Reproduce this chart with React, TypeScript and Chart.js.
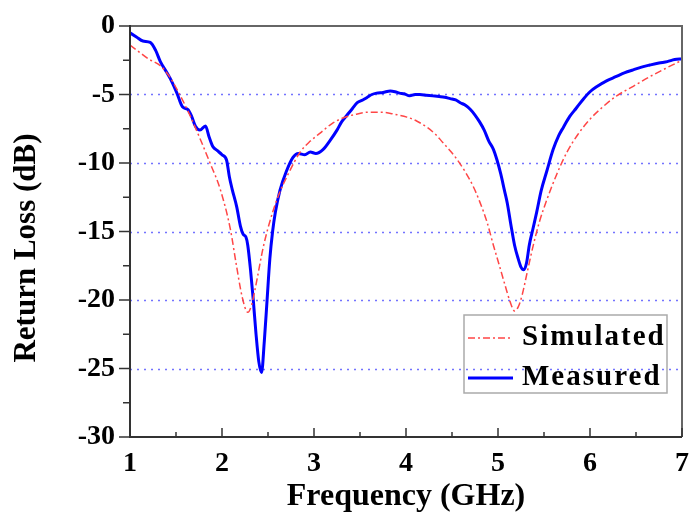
import React, { useEffect, useRef } from "react";
import { Chart, registerables } from "chart.js";

Chart.register(...registerables);

const X_TITLE = "Frequency (GHz)";
const Y_TITLE = "Return Loss (dB)";
const X_MIN = 1, X_MAX = 7, X_STEP = 1, X_MINOR = 0.5;
const Y_MIN = -30, Y_MAX = 0, Y_STEP = 5, Y_MINOR = 2.5;
const GRID_VALUES = [-5, -10, -15, -20, -25];

const SIM_LABEL = "Simulated";
const MEAS_LABEL = "Measured";

const measFreq = [
  1.00, 1.07, 1.14, 1.22, 1.28, 1.33, 1.40, 1.45, 1.51, 1.57, 1.63, 1.67, 1.71, 1.76, 1.82, 1.86, 1.90, 1.95,
  2.00, 2.05, 2.08, 2.11, 2.16, 2.20, 2.23, 2.26, 2.28, 2.31, 2.34, 2.37, 2.40, 2.43, 2.46, 2.49, 2.52, 2.55,
  2.58, 2.63, 2.70, 2.77, 2.83, 2.90, 2.96, 3.02, 3.10, 3.17, 3.25, 3.30, 3.36, 3.42, 3.47, 3.53, 3.58, 3.63,
  3.68, 3.75, 3.83, 3.88, 3.93, 3.98, 4.04, 4.10, 4.15, 4.22, 4.29, 4.36, 4.42, 4.48, 4.54, 4.59, 4.65, 4.70,
  4.75, 4.80, 4.85, 4.90, 4.95, 4.99, 5.03, 5.07, 5.10, 5.14, 5.18, 5.22, 5.25, 5.28, 5.31, 5.34, 5.38, 5.42,
  5.47, 5.53, 5.60, 5.66, 5.71, 5.78, 5.85, 5.92, 6.00, 6.08, 6.18, 6.28, 6.38, 6.47, 6.56, 6.65, 6.75, 6.84,
  6.92, 7.00,
];
const measDb = [
  -0.5, -0.8, -1.1, -1.2, -1.8, -2.6, -3.4, -4.0, -4.9, -5.9, -6.1, -6.6, -7.3, -7.6, -7.3, -8.1, -8.8, -9.1,
  -9.4, -9.8, -11.0, -11.9, -13.2, -14.6, -15.2, -15.4, -16.0, -17.8, -20.0, -22.5, -24.5, -25.3, -23.0, -20.0, -17.0, -15.0,
  -13.6, -12.0, -10.6, -9.6, -9.3, -9.4, -9.2, -9.3, -9.0, -8.4, -7.6, -7.0, -6.5, -6.0, -5.6, -5.4, -5.2, -5.0,
  -4.9, -4.85, -4.75, -4.8, -4.9, -4.95, -5.1, -5.0, -5.0, -5.05, -5.1, -5.15, -5.2, -5.3, -5.4, -5.6, -5.8, -6.1,
  -6.5, -7.0, -7.6, -8.4, -9.0, -9.8, -10.8, -12.0, -12.9, -14.5, -16.0, -17.0, -17.6, -17.8, -17.3, -16.0, -14.8, -13.6,
  -12.0, -10.6, -9.0, -8.0, -7.4, -6.6, -6.0, -5.4, -4.8, -4.4, -4.0, -3.7, -3.4, -3.2, -3.0, -2.85, -2.7, -2.6,
  -2.45, -2.4,
];

const simFreq = [
  1.00, 1.10, 1.20, 1.33, 1.43, 1.54, 1.65, 1.76, 1.87, 1.98, 2.09, 2.16, 2.22, 2.28, 2.32, 2.36, 2.45, 2.55,
  2.63, 2.72, 2.85, 2.96, 3.07, 3.20, 3.32, 3.45, 3.58, 3.75, 3.88, 4.01, 4.12, 4.23, 4.32, 4.40, 4.48, 4.55,
  4.64, 4.73, 4.80, 4.88, 4.95, 5.02, 5.08, 5.13, 5.18, 5.22, 5.26, 5.32, 5.38, 5.45, 5.53, 5.64, 5.75, 5.87,
  6.00, 6.14, 6.29, 6.47, 6.65, 6.82, 7.00,
];
const simDb = [
  -1.4, -1.9, -2.4, -2.9, -3.7, -5.0, -6.5, -8.2, -10.0, -11.9, -14.8, -17.6, -19.8, -20.9, -20.4, -19.2, -16.1, -13.6,
  -12.1, -10.8, -9.2, -8.4, -7.8, -7.1, -6.7, -6.45, -6.3, -6.3, -6.45, -6.65, -6.95, -7.4, -7.9, -8.5, -9.1, -9.7,
  -10.6, -11.7, -12.8, -14.3, -16.0, -17.6, -19.0, -20.1, -20.8, -20.5, -19.7, -17.9, -16.1, -14.3, -12.7, -10.8, -9.2, -7.9,
  -6.8, -5.9, -5.1, -4.4, -3.7, -3.1, -2.5,
];

const FONT = '"Liberation Serif", "Times New Roman", serif';
const SIM_COLOR = "rgb(255,70,70)";
const MEAS_COLOR = "#0000ff";
const SIM_DASH = [7, 3, 2, 3];

const zeroPad = (s: any) => {
  s.paddingTop = 0;
  s.paddingBottom = 0;
  s.paddingLeft = 0;
  s.paddingRight = 0;
};

const decor = {
  id: "decor",
  beforeDatasetsDraw(chart: any) {
    const { ctx, chartArea: a, scales } = chart;
    const y = scales.y;
    ctx.save();
    ctx.strokeStyle = "rgba(90,90,255,0.85)";
    ctx.lineWidth = 1.5;
    ctx.setLineDash([2, 5]);
    for (const v of GRID_VALUES) {
      const py = Math.round(y.getPixelForValue(v)) + 0.5;
      ctx.beginPath();
      ctx.moveTo(a.left, py);
      ctx.lineTo(a.right, py);
      ctx.stroke();
    }
    ctx.restore();
  },
  afterDatasetsDraw(chart: any) {
    const { ctx, chartArea: a, scales } = chart;
    const x = scales.x, y = scales.y;
    ctx.save();
    // frame top/right
    ctx.strokeStyle = "#666";
    ctx.lineWidth = 2;
    ctx.beginPath();
    ctx.moveTo(a.left, a.top);
    ctx.lineTo(a.right, a.top);
    ctx.lineTo(a.right, a.bottom);
    ctx.stroke();
    // axes left/bottom
    ctx.strokeStyle = "#333";
    ctx.beginPath();
    ctx.moveTo(a.left, a.top - 1);
    ctx.lineTo(a.left, a.bottom);
    ctx.lineTo(a.right, a.bottom);
    ctx.stroke();
    // y ticks (outward)
    ctx.lineWidth = 1.5;
    for (let v = Y_MIN; v <= Y_MAX + 1e-6; v += Y_MINOR) {
      const py = y.getPixelForValue(v);
      const major = Math.abs(v / Y_STEP - Math.round(v / Y_STEP)) < 1e-6;
      ctx.beginPath();
      ctx.moveTo(a.left, py);
      ctx.lineTo(a.left - (major ? 11 : 7), py);
      ctx.stroke();
    }
    // x ticks (inward)
    for (let v = X_MIN; v <= X_MAX + 1e-6; v += X_MINOR) {
      const px = x.getPixelForValue(v);
      const major = Math.abs(v / X_STEP - Math.round(v / X_STEP)) < 1e-6;
      ctx.beginPath();
      ctx.moveTo(px, a.bottom);
      ctx.lineTo(px, a.bottom - (major ? 9 : 5));
      ctx.stroke();
    }
    // legend
    const lx = 464, ly = 315, lw = 203, lh = 78;
    ctx.strokeStyle = "#aaa";
    ctx.lineWidth = 1.5;
    ctx.strokeRect(lx, ly, lw, lh);
    const ds = chart.data.datasets;
    const rows = [338, 378];
    ds.forEach((d: any, i: number) => {
      const ry = rows[i];
      ctx.strokeStyle = d.borderColor;
      ctx.lineWidth = d.borderWidth;
      ctx.setLineDash(d.borderDash || []);
      ctx.beginPath();
      ctx.moveTo(lx + 4, ry);
      ctx.lineTo(lx + 49, ry);
      ctx.stroke();
      ctx.setLineDash([]);
      ctx.fillStyle = "#000";
      ctx.font = `bold 29px ${FONT}`;
      (ctx as any).letterSpacing = "2px";
      ctx.textAlign = "left";
      ctx.textBaseline = "middle";
      ctx.fillText(d.label, lx + 58, ry);
      (ctx as any).letterSpacing = "0px";
    });
    // titles
    ctx.fillStyle = "#000";
    ctx.font = `bold 32px ${FONT}`;
    ctx.textAlign = "center";
    ctx.textBaseline = "middle";
    ctx.fillText(X_TITLE, (a.left + a.right) / 2, 497);
    ctx.translate(27, 248);
    ctx.rotate(-Math.PI / 2);
    ctx.font = `bold 31px ${FONT}`;
    ctx.fillText(Y_TITLE, 0, 0);
    ctx.restore();
  },
};

export default function App() {
  const ref = useRef<HTMLCanvasElement>(null);
  useEffect(() => {
    if (!ref.current) return;
    const chart = new Chart(ref.current, {
      type: "line",
      data: {
        datasets: [
          {
            label: SIM_LABEL,
            data: simFreq.map((f, i) => ({ x: f, y: simDb[i] })),
            borderColor: SIM_COLOR,
            borderWidth: 1.5,
            borderDash: SIM_DASH,
            pointRadius: 0,
            cubicInterpolationMode: "monotone",
            fill: false,
          },
          {
            label: MEAS_LABEL,
            data: measFreq.map((f, i) => ({ x: f, y: measDb[i] })),
            borderColor: MEAS_COLOR,
            borderWidth: 3,
            pointRadius: 0,
            cubicInterpolationMode: "monotone",
            fill: false,
          },
        ],
      },
      plugins: [decor],
      options: {
        animation: false,
        responsive: false,
        layout: { padding: { top: 26, right: 7, left: 0, bottom: 0 } },
        plugins: { legend: { display: false }, tooltip: { enabled: false } },
        scales: {
          x: {
            type: "linear",
            min: X_MIN,
            max: X_MAX,
            grid: { display: false, drawTicks: false },
            border: { display: false },
            ticks: {
              stepSize: X_STEP,
              padding: 10,
              color: "#000",
              font: { family: FONT, size: 28, weight: "bold" },
              callback: (v: any) => String(v),
            },
            afterFit: (s: any) => { s.height = 88; zeroPad(s); },
          },
          y: {
            type: "linear",
            min: Y_MIN,
            max: Y_MAX,
            grid: { display: false, drawTicks: false },
            border: { display: false },
            ticks: {
              stepSize: Y_STEP,
              padding: 15,
              color: "#000",
              font: { family: FONT, size: 28, weight: "bold" },
              callback: (v: any) => String(v),
            },
            afterFit: (s: any) => { s.width = 130; zeroPad(s); },
          },
        },
      },
    });
    return () => chart.destroy();
  }, []);
  return (
    <div style={{ position: "absolute", left: 0, top: 0, width: 689, height: 525, background: "#fff" }}>
      <canvas ref={ref} width={689} height={525} />
    </div>
  );
}
